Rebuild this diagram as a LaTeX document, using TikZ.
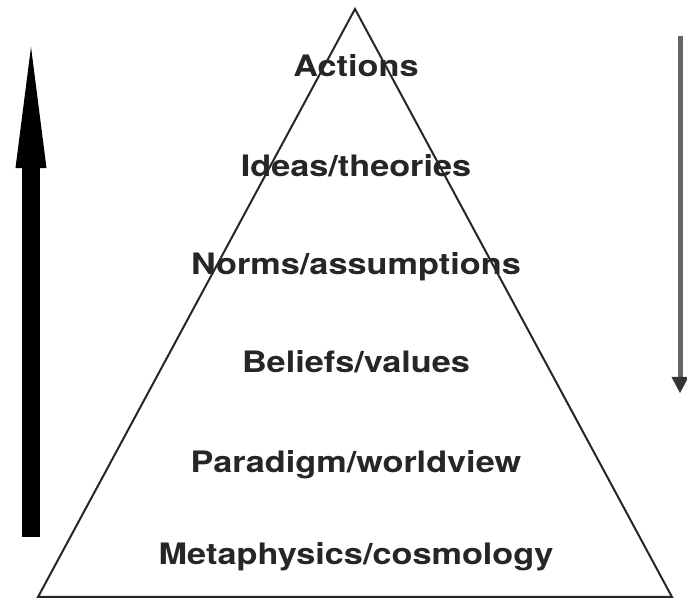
\documentclass[tikz,border=0pt]{standalone}
\usepackage{fontspec}
\setmainfont{TeX Gyre Heros}
\newfontfamily\levelfont[FakeStretch=1.16]{TeX Gyre Heros}
\usetikzlibrary{arrows.meta}

\begin{document}
\begin{tikzpicture}[
    x=0.025cm, y=-0.025cm,
    level/.style    = {anchor=base, inner sep=0pt, text=black!85, font=\levelfont\fontsize{21}{25}\selectfont\bfseries},
    pyramid/.style  = {draw=black!85, line width=0.05cm, line join=miter},
    upward/.style   = {line width=0.425cm, -{Triangle[length=3.025cm, width=0.775cm, line width=0pt]}},
    downward/.style = {draw=black!60, line width=0.125cm, -{Triangle[length=0.4cm, width=0.425cm, line width=0pt, fill=black!80]}},
]

\useasboundingbox (0,0) rectangle (687,603);

% pyramid outline
\coordinate (apex)  at (355, 9);
\coordinate (left)  at (38, 597);
\coordinate (right) at (672, 597);
\draw[pyramid] (left) -- (apex) -- (right) -- cycle;

% levels, top to bottom
\node[level] (actions)  at (356, 77)  {Actions};
\node[level] (ideas)    at (356, 177) {Ideas/theories};
\node[level] (norms)    at (356, 275) {Norms/assumptions};
\node[level] (beliefs)  at (356, 373) {Beliefs/values};
\node[level] (paradigm) at (356, 473) {Paradigm/worldview};
\node[level] (meta)     at (356, 565) {Metaphysics/cosmology};

% upward arrow on the left
\coordinate (up-from) at (31, 537);
\coordinate (up-to)   at (31, 47);
\draw[upward] (up-from) -- (up-to);

% downward arrow on the right
\coordinate (down-from) at (680, 36);
\coordinate (down-to)   at (680, 393);
\draw[downward] (down-from) -- (down-to);

\end{tikzpicture}
\end{document}
